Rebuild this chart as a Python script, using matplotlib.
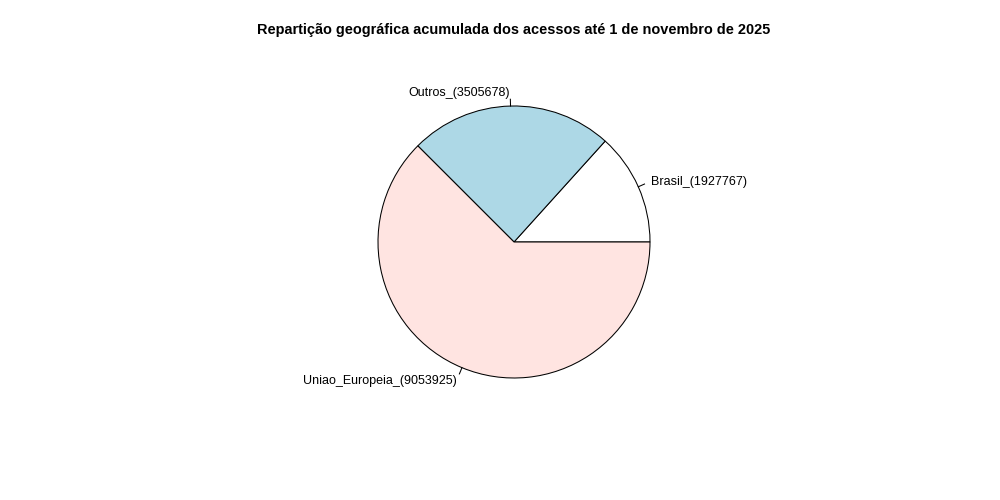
import matplotlib
matplotlib.use("Agg")
import matplotlib.pyplot as plt
import numpy as np

plt.rcParams['font.family'] = ['Liberation Sans', 'DejaVu Sans']

# data
regions = ['Brasil_', 'Outros_', 'Uniao_Europeia_']
accesses = [1927767, 3505678, 9053925]
colors = ['white', '#ADD8E6', '#FFE4E1']
title = 'Repartição geográfica acumulada dos acessos até 1 de novembro de 2025'

fig = plt.figure(figsize=(10, 5), dpi=100)
ax = fig.add_axes([0, 0, 1, 1])

cx, cy, r = 514, 258, 136
wedges, _ = ax.pie(accesses, colors=colors, startangle=0, counterclock=True,
                   center=(cx, cy), radius=r, frame=True,
                   wedgeprops=dict(edgecolor='black', linewidth=0.75))
ax.set_xlim(0, 1000)
ax.set_ylim(0, 500)
ax.set_aspect('equal')
ax.axis('off')

# labels placed R-style: tick from r to 1.05r, text at 1.1r
for w, name, val in zip(wedges, regions, accesses):
    mid = np.deg2rad((w.theta1 + w.theta2) / 2)
    c, s = np.cos(mid), np.sin(mid)
    ax.plot([cx + r * c, cx + 1.05 * r * c], [cy + r * s, cy + 1.05 * r * s],
            color='black', lw=0.75)
    ax.text(cx + 1.1 * r * c, cy + 1.1 * r * s - 0.8, f'{name}({val})',
            ha='left' if c > 0 else 'right', va='center', fontsize=9.0)

fig.text(0.514, 0.94, title, ha='center', va='center', fontsize=10.45, fontweight='bold')

fig.savefig('out.png', dpi=100, facecolor='white')
